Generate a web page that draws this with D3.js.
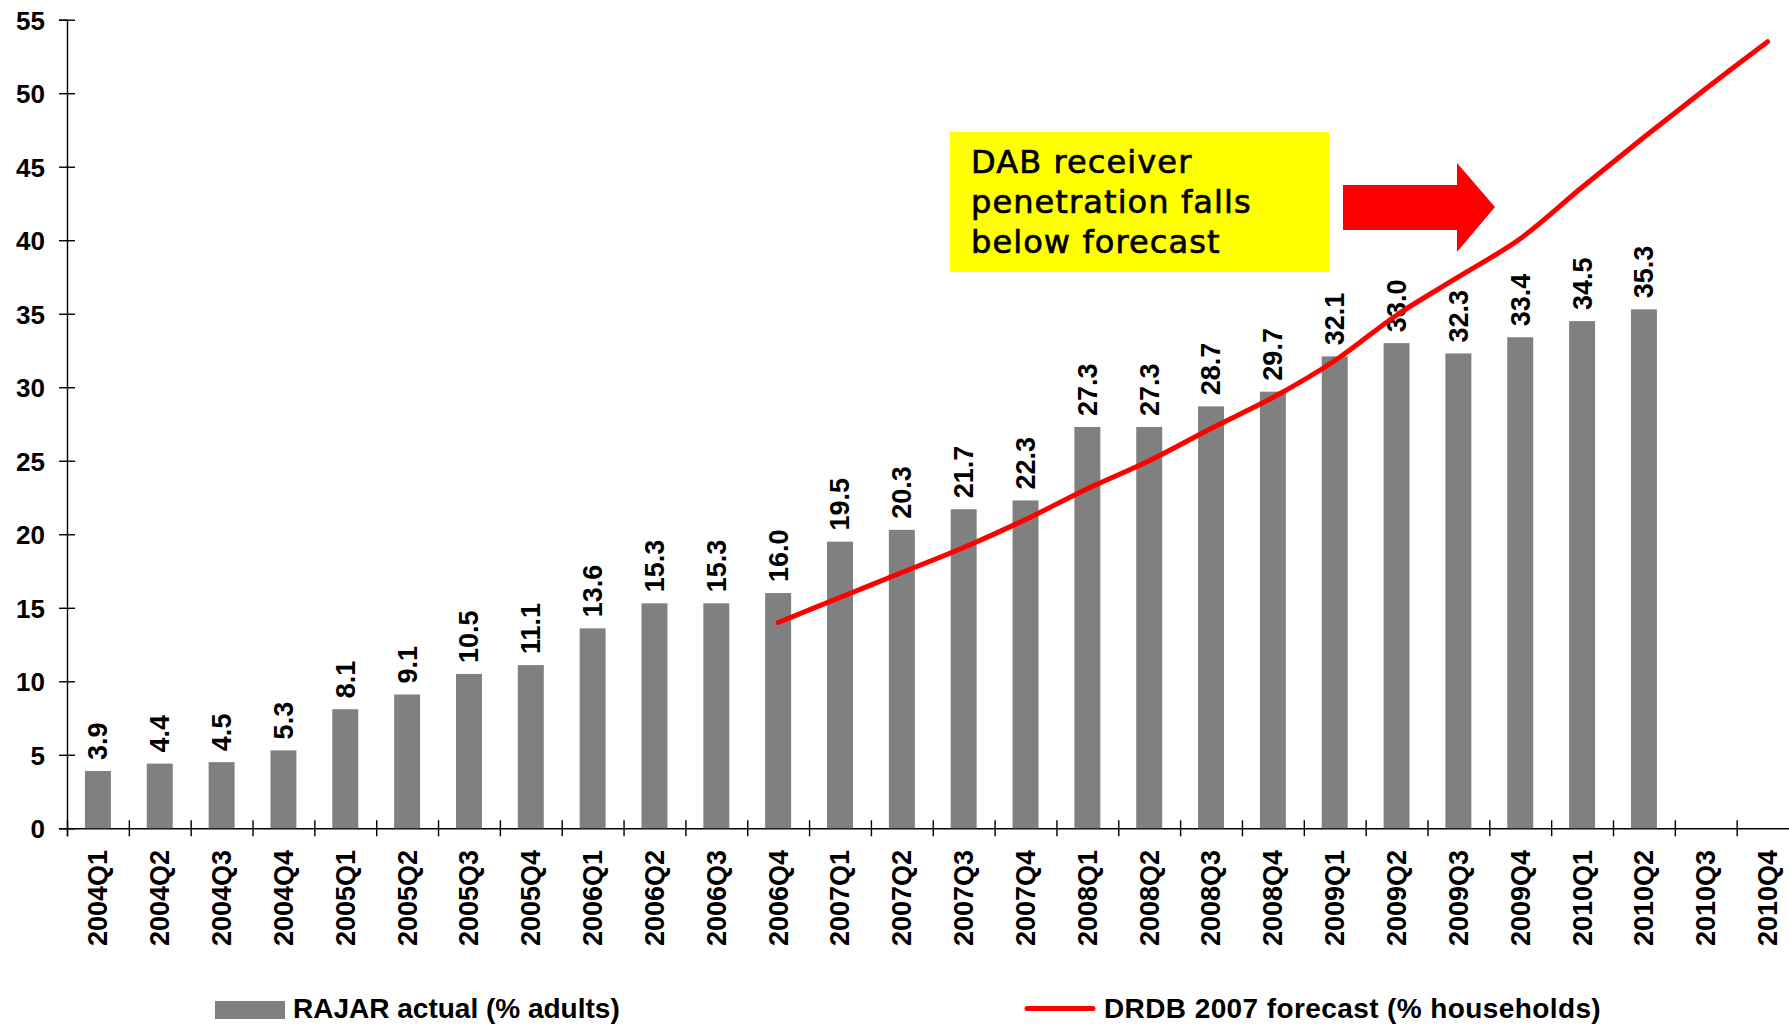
<!DOCTYPE html>
<html>
<head>
<meta charset="utf-8">
<script src="https://cdn.jsdelivr.net/npm/d3@7"></script>
<style>
  body { margin: 0; background: #fff; }
  svg { display: block; }
</style>
</head>
<body>
<div id="chart"></div>
<script>
// Canvas size
const width = 1789;
const height = 1025;

// Data
const quarters = ["2004Q1","2004Q2","2004Q3","2004Q4","2005Q1","2005Q2","2005Q3","2005Q4",
  "2006Q1","2006Q2","2006Q3","2006Q4","2007Q1","2007Q2","2007Q3","2007Q4",
  "2008Q1","2008Q2","2008Q3","2008Q4","2009Q1","2009Q2","2009Q3","2009Q4",
  "2010Q1","2010Q2","2010Q3","2010Q4"];
const rajarActual = [3.9, 4.4, 4.5, 5.3, 8.1, 9.1, 10.5, 11.1, 13.6, 15.3, 15.3, 16.0,
  19.5, 20.3, 21.7, 22.3, 27.3, 27.3, 28.7, 29.7, 32.1, 33.0, 32.3, 33.4, 34.5, 35.3, null, null];
const forecastQuarters = quarters.slice(11);
const drdbForecast = [14.0, 15.7, 17.4, 19.1, 21.0, 23.1, 25.0, 27.2, 29.3, 31.8, 34.9,
  37.5, 40.1, 43.6, 47.0, 50.3, 53.5];
const yTicks = [0, 5, 10, 15, 20, 25, 30, 35, 40, 45, 50, 55];
const noteLines = ["DAB receiver", "penetration falls", "below forecast"];

const svg = d3.select("#chart")
  .append("svg")
  .attr("width", width)
  .attr("height", height);

// Scales
const x = d3.scaleBand()
  .domain(quarters)
  .range([67, 67 + 28 * 61.84])
  .padding(0);

const y = d3.scaleLinear()
  .domain([0, 55])
  .range([828.3, 19.7]);

const font = "'Liberation Sans', Arial, sans-serif";

// Y axis
const yAxis = svg.append("g")
  .attr("transform", `translate(${x.range()[0]},0)`)
  .call(d3.axisLeft(y).tickValues(yTicks).tickSize(8).tickPadding(14));
yAxis.select(".domain").attr("stroke", "#000").attr("stroke-width", 1.4);
yAxis.selectAll(".tick line").attr("x1", 8).attr("stroke", "#000").attr("stroke-width", 1.4);
yAxis.selectAll(".tick text")
  .style("font-family", font)
  .style("font-size", "26px")
  .style("font-weight", "bold")
  .attr("fill", "#000")
  .attr("dy", "0.36em");

// X axis (ticks on category boundaries)
const xEdge = d3.scaleLinear().domain([0, quarters.length]).range(x.range());
const xAxis = svg.append("g")
  .attr("transform", `translate(0,${y(0)})`)
  .call(d3.axisBottom(xEdge).tickValues(d3.range(0, quarters.length + 1)).tickSize(8).tickFormat(""));
xAxis.select(".domain").attr("stroke", "#000").attr("stroke-width", 1.4);
xAxis.selectAll(".tick line").attr("y1", -8).attr("stroke", "#000").attr("stroke-width", 1.4);

// Category labels
svg.append("g").selectAll("text")
  .data(quarters)
  .join("text")
  .attr("transform", d => `translate(${x(d) + x.bandwidth() / 2},850) rotate(-90)`)
  .attr("text-anchor", "end")
  .attr("dy", "0.35em")
  .style("font-family", font)
  .style("font-size", "27px")
  .style("font-weight", "bold")
  .text(d => d);

// Bars
const barW = x.bandwidth() * 0.42;
const barData = quarters.map((q, i) => ({ q, v: rajarActual[i] })).filter(d => d.v != null);

svg.append("g").selectAll("rect")
  .data(barData)
  .join("rect")
  .attr("x", d => x(d.q) + (x.bandwidth() - barW) / 2)
  .attr("y", d => y(d.v))
  .attr("width", barW)
  .attr("height", d => y(0) - y(d.v))
  .attr("fill", "#808080");

// Bar value labels
svg.append("g").selectAll("text")
  .data(barData)
  .join("text")
  .attr("transform", d => `translate(${x(d.q) + x.bandwidth() / 2},${y(d.v) - 11}) rotate(-90)`)
  .attr("text-anchor", "start")
  .attr("dy", "0.35em")
  .style("font-family", font)
  .style("font-size", "27px")
  .style("font-weight", "bold")
  .text(d => d.v.toFixed(1));

// Forecast line
const line = d3.line()
  .x((d, i) => x(forecastQuarters[i]) + x.bandwidth() / 2)
  .y(d => y(d))
  .curve(d3.curveCatmullRom);

svg.append("path")
  .datum(drdbForecast)
  .attr("d", line)
  .attr("fill", "none")
  .attr("stroke", "#ff0000")
  .attr("stroke-width", 5)
  .attr("stroke-linecap", "round")
  .attr("stroke-linejoin", "round");

// Annotation box
svg.append("rect")
  .attr("x", 950).attr("y", 132)
  .attr("width", 379).attr("height", 140)
  .attr("fill", "#ffff00");

svg.append("g").selectAll("text")
  .data(noteLines)
  .join("text")
  .attr("x", 971)
  .attr("y", (d, i) => 173 + i * 40)
  .style("font-family", "'DejaVu Sans', Verdana, sans-serif")
  .style("font-size", "32px")
  .style("letter-spacing", "1.1px")
  .attr("fill", "#000")
  .attr("stroke", "#000")
  .attr("stroke-width", 0.7)
  .text(d => d);

// Block arrow
svg.append("path")
  .attr("d", "M1343,185 L1457,185 L1457,163 L1495,207 L1457,252 L1457,230 L1343,230 Z")
  .attr("fill", "#ff0000");

// Legend
const legend = svg.append("g");
legend.append("rect")
  .attr("x", 215).attr("y", 1001)
  .attr("width", 70).attr("height", 18)
  .attr("fill", "#808080");
legend.append("text")
  .attr("x", 293).attr("y", 1018)
  .style("font-family", font)
  .style("font-size", "28px")
  .style("font-weight", "bold")
  .text("RAJAR actual (% adults)");

legend.append("line")
  .attr("x1", 1027).attr("x2", 1093)
  .attr("y1", 1008.5).attr("y2", 1008.5)
  .attr("stroke", "#ff0000")
  .attr("stroke-width", 5)
  .attr("stroke-linecap", "round");
legend.append("text")
  .attr("x", 1104).attr("y", 1018)
  .style("font-family", font)
  .style("font-size", "28px")
  .style("font-weight", "bold")
  .style("letter-spacing", "0.4px")
  .text("DRDB 2007 forecast (% households)");
</script>
</body>
</html>
